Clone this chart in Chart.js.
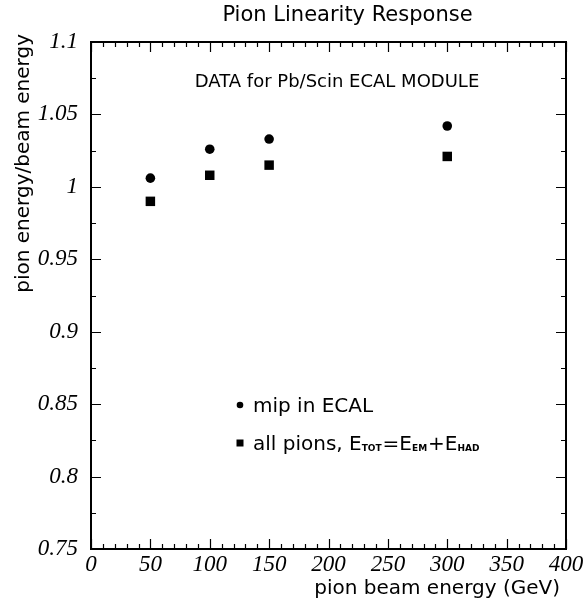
<!DOCTYPE html>
<html>
<head>
<meta charset="utf-8">
<script src="https://cdn.jsdelivr.net/npm/chart.js@4.4.0/dist/chart.umd.min.js"></script>
<style>
  html, body { margin: 0; padding: 0; background: #fff; }
  #wrap { width: 586px; height: 602px; position: relative; }
</style>
</head>
<body>
<div id="wrap"><canvas id="linearityChart"></canvas></div>
<script>
// beam energies (GeV) and measured response ratios
const beamEnergy = [50, 100, 150, 300];
const mipInEcal = [1.006, 1.026, 1.033, 1.042];
const allPions = [0.990, 1.008, 1.015, 1.021];

const xTickLabels = ['0', '50', '100', '150', '200', '250', '300', '350', '400'];
const yTickLabels = ['0.75', '0.8', '0.85', '0.9', '0.95', '1', '1.05', '1.1'];

const SANS = '"DejaVu Sans", sans-serif';
const SERIF = '"Liberation Serif", serif';

const toPoints = (ys) => beamEnergy.map((x, i) => ({ x, y: ys[i] }));

// frame box with inward ticks on all four sides, titles, note and legend
const paperFrame = {
  id: 'paperFrame',
  afterDatasetsDraw(chart) {
    const { ctx, chartArea: a, scales: { x, y } } = chart;
    ctx.save();
    ctx.strokeStyle = '#000';
    ctx.fillStyle = '#000';
    ctx.lineWidth = 2;
    ctx.strokeRect(a.left, a.top, a.right - a.left, a.bottom - a.top);

    ctx.lineWidth = 1.2;
    ctx.beginPath();
    for (let v = 0; v <= 400; v += 10) {
      const px = Math.round(x.getPixelForValue(v)) + 0.5;
      const len = v % 50 === 0 ? 10 : 5;
      ctx.moveTo(px, a.bottom); ctx.lineTo(px, a.bottom - len);
      ctx.moveTo(px, a.top); ctx.lineTo(px, a.top + len);
    }
    for (let k = 0; k <= 14; k++) {
      const v = 0.75 + k * 0.025;
      const py = Math.round(y.getPixelForValue(v)) + 0.5;
      const len = k % 2 === 0 ? 10 : 5;
      ctx.moveTo(a.left, py); ctx.lineTo(a.left + len, py);
      ctx.moveTo(a.right, py); ctx.lineTo(a.right - len, py);
    }
    ctx.stroke();

    // main title
    ctx.font = '21px ' + SANS;
    ctx.textAlign = 'center';
    ctx.textBaseline = 'alphabetic';
    ctx.fillText('Pion Linearity Response', (a.left + a.right) / 2 + 19, 21);

    // note in the plot
    ctx.font = '18px ' + SANS;
    ctx.fillText('DATA for Pb/Scin ECAL MODULE', a.left + 246, a.top + 45);

    // axis titles
    ctx.font = '20px ' + SANS;
    ctx.textAlign = 'right';
    ctx.fillText('pion beam energy (GeV)', a.right - 6, 594);
    ctx.save();
    ctx.translate(24, a.top - 8);
    ctx.rotate(-Math.PI / 2);
    ctx.textBaseline = 'middle';
    ctx.fillText('pion energy/beam energy', 0, 0);
    ctx.restore();

    // legend
    const lx = a.left + 149;
    const tx = a.left + 162;
    ctx.textAlign = 'left';
    ctx.textBaseline = 'alphabetic';
    ctx.font = '20px ' + SANS;
    ctx.beginPath();
    ctx.arc(lx, a.top + 363, 3.3, 0, Math.PI * 2);
    ctx.fill();
    ctx.fillText('mip in ECAL', tx, a.top + 370);

    ctx.fillRect(lx - 3.5, a.top + 401 - 3.5, 7, 7);
    const base = a.top + 408;
    const parts = [
      ['all pions, E', false], ['TOT', true], ['=E', false],
      ['EM', true], ['+E', false], ['HAD', true]
    ];
    let cx = tx;
    parts.forEach(([txt, sub]) => {
      ctx.font = sub ? 'bold 9px ' + SANS : '20px ' + SANS;
      ctx.fillText(txt, cx, sub ? base + 1 : base);
      cx += ctx.measureText(txt).width + (sub ? 1 : 0);
    });
    ctx.restore();
  }
};

new Chart(document.getElementById('linearityChart'), {
  type: 'scatter',
  data: {
    datasets: [
      {
        label: 'mip in ECAL',
        data: toPoints(mipInEcal),
        pointStyle: 'circle',
        pointRadius: 4.8,
        pointBorderWidth: 0,
        backgroundColor: '#000',
        borderColor: '#000',
      },
      {
        label: 'all pions',
        data: toPoints(allPions),
        pointStyle: 'rect',
        pointRadius: 6.7,
        pointBorderWidth: 0,
        backgroundColor: '#000',
        borderColor: '#000',
      },
    ],
  },
  options: {
    responsive: true,
    maintainAspectRatio: false,
    animation: false,
    layout: { padding: { top: 42, right: 20, left: 0, bottom: 0 } },
    plugins: {
      legend: { display: false },
      title: { display: false },
      tooltip: { enabled: false },
    },
    scales: {
      x: {
        type: 'linear',
        min: 0,
        max: 400,
        afterFit: (scale) => { scale.height = 53; },
        grid: { display: false, drawTicks: false },
        border: { display: false },
        ticks: {
          stepSize: 50,
          padding: 2,
          color: '#000',
          font: { family: SERIF, size: 23, style: 'italic' },
          callback: (v, i) => xTickLabels[i],
        },
      },
      y: {
        type: 'linear',
        min: 0.75,
        max: 1.1,
        afterFit: (scale) => { scale.width = 91; },
        grid: { display: false, drawTicks: false },
        border: { display: false },
        ticks: {
          stepSize: 0.05,
          padding: 13,
          color: '#000',
          font: { family: SERIF, size: 23, style: 'italic' },
          callback: (v, i) => yTickLabels[i],
        },
      },
    },
  },
  plugins: [paperFrame],
});
</script>
</body>
</html>
